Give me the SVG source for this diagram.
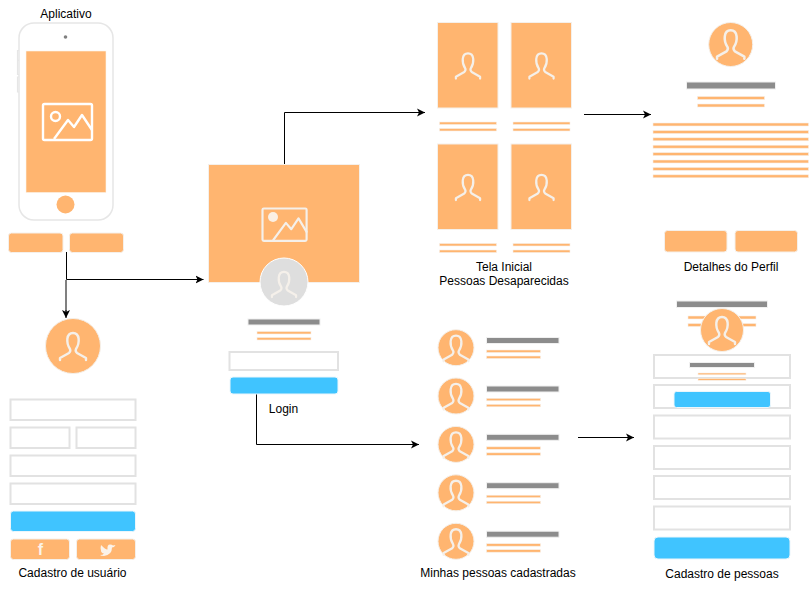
<svg xmlns="http://www.w3.org/2000/svg" xmlns:xlink="http://www.w3.org/1999/xlink" width="809" height="591" viewBox="0 0 809 591">
<style>
text{font-family:"Liberation Sans",Arial,sans-serif;font-size:12px;fill:#000;text-anchor:middle}
.o{fill:#ffb570;stroke:#f5f0ea;stroke-width:1}
.d{fill:#8c8c8c;stroke:#f0f0f0;stroke-width:1}
.b{fill:#40c4ff;stroke:#ecf6fb;stroke-width:1}
.f{fill:#fff;stroke:#e2e2e2;stroke-width:2}
.l{fill:#ffb570;stroke:#f7efe6;stroke-width:.6}
.c{fill:none;stroke:#000;stroke-width:1}
.i{fill:none;stroke:#f5f0ea;stroke-width:2.400;stroke-linecap:round;stroke-linejoin:round}
.w{fill:none;stroke:#fff;stroke-width:2.400;stroke-linejoin:round}
</style>
<defs>
<marker id="a" markerUnits="userSpaceOnUse" markerWidth="9" markerHeight="9" refX="8" refY="4.500" orient="auto"><path d="M0,.5L8,4.500L0,8.500L2,4.500Z" fill="#000"/></marker>
<path id="p" d="M-13,14V12L-4,7Q-2,5-3,3C-7,-3-7,-13,0,-13C7,-13,7,-3,3,3Q2,5,4,7L13,12V14"/>
</defs>
<g id="edges">
<path class="c" d="M66.500,252V279.500H203.500" marker-end="url(#a)"/>
<path d="M66,280V312" fill="none" stroke="#808080" stroke-width="2"/>
<path class="c" d="M66,310V318" marker-end="url(#a)"/>
<path class="c" d="M284.500,165V112.500H425" marker-end="url(#a)"/>
<path class="c" d="M256.500,394V444.500H419" marker-end="url(#a)"/>
<path class="c" d="M584,114.500H651" marker-end="url(#a)"/>
<path class="c" d="M578,437.500H634" marker-end="url(#a)"/>
</g>
<g id="app">
<text x="66" y="18">Aplicativo</text>
<path fill="#fff" stroke="#e6e6e6" stroke-width="1.200" d="M17.500,50.500h2v9.500h-2zM17.500,60.500h2v14h-2zM17.500,77h2v15h-2z"/>
<rect x="19" y="23" width="94" height="197" rx="15" fill="#fff" stroke="#e6e6e6" stroke-width="1.500"/>
<circle cx="65.500" cy="37" r="1.800" fill="#808080"/>
<rect x="26" y="51" width="80" height="141.500" fill="#ffb570" stroke="#fbf3ea" stroke-width=".6"/>
<circle cx="65.500" cy="204.500" r="9" fill="#ffb570"/>
<g class="w"><rect x="43" y="104" width="49" height="36" rx="1.500"/><circle cx="55.500" cy="116.500" r="4.500"/><path d="M54,139L68,120L74,127L82,115L92,130"/></g>
<rect class="o" x="8.500" y="233" width="54.500" height="19.500" rx="3"/>
<rect class="o" x="69.500" y="233" width="54" height="19.500" rx="3"/>
</g>
<g id="signup">
<circle class="o" cx="73" cy="346" r="27.500"/>
<use href="#p" class="i" transform="translate(73 346)"/>
<rect class="f" x="10.500" y="399.500" width="125" height="20.500"/>
<rect class="f" x="10.500" y="427.500" width="59" height="20.500"/>
<rect class="f" x="76.500" y="427.500" width="59" height="20.500"/>
<rect class="f" x="10.500" y="455.500" width="125" height="20.500"/>
<rect class="f" x="10.500" y="483.500" width="125" height="20.500"/>
<rect class="b" x="10.500" y="511" width="125" height="20.500" rx="3"/>
<rect class="o" x="10.500" y="539" width="59" height="20.500" rx="3"/>
<rect class="o" x="76.500" y="539" width="59" height="20.500" rx="3"/>
<text x="40.500" y="555" style="font-weight:bold;font-size:16px;fill:#fbf3ea">f</text>
<path fill="#fbf3ea" d="M101,545Q106,550 107.500,549.500Q107,544.500 110,544.500Q112,544.500 113,545.500L115.500,545L114,547L112,547.500Q112,555 104,556Q101,556 100,555Q103,555 104,553.500Q101,553 101,550.500Q100,549 101,545Z"/>
<text x="72.500" y="577">Cadastro de usuário</text>
</g>
<g id="login">
<rect class="o" x="208.500" y="164.500" width="151" height="118"/>
<g class="i" transform="translate(262.500 208.500) scale(.9)"><rect x="0" y="0" width="49" height="36" rx="1.500"/><path d="M12,35L26,16L32,23L40,11L49,26"/></g>
<circle cx="273" cy="217" r="5" fill="#fbf0e4"/>
<circle cx="284" cy="282" r="24" fill="#dedede" stroke="#fff" stroke-width="1"/>
<use href="#p" class="i" transform="translate(284 284) scale(.93)"/>
<rect class="d" x="248" y="319" width="72" height="6"/>
<rect class="l" x="257" y="331.500" width="54" height="2.500"/>
<rect class="l" x="257" y="337.500" width="54" height="2.500"/>
<rect class="f" x="229.500" y="352" width="108.500" height="18"/>
<rect class="b" x="230" y="377" width="108" height="17" rx="3"/>
<text x="283.500" y="413">Login</text>
</g>
<g id="home">
<rect class="o" x="437.500" y="22.500" width="60.500" height="85.500"/>
<rect class="o" x="511" y="22.500" width="60.500" height="85.500"/>
<rect class="o" x="437.500" y="144" width="60.500" height="85.500"/>
<rect class="o" x="511" y="144" width="60.500" height="85.500"/>
<use href="#p" class="i" transform="translate(468 65.500) scale(.93)"/>
<use href="#p" class="i" transform="translate(541.500 65.500) scale(.93)"/>
<use href="#p" class="i" transform="translate(468 187) scale(.93)"/>
<use href="#p" class="i" transform="translate(541.500 187) scale(.93)"/>
<g class="l">
<rect x="439.500" y="122" width="57" height="2.500"/><rect x="439.500" y="128.500" width="57" height="2.500"/>
<rect x="513" y="122" width="57" height="2.500"/><rect x="513" y="128.500" width="57" height="2.500"/>
<rect x="439.500" y="243.500" width="57" height="2.500"/><rect x="439.500" y="250" width="57" height="2.500"/>
<rect x="513" y="243.500" width="57" height="2.500"/><rect x="513" y="250" width="57" height="2.500"/>
</g>
<text x="504" y="270.500">Tela Inicial</text>
<text x="504" y="284.500">Pessoas Desaparecidas</text>
</g>
<g id="profile">
<circle class="o" cx="730.700" cy="44.500" r="22"/>
<use href="#p" class="i" transform="translate(730.700 44) scale(1.050)"/>
<rect class="d" x="686.500" y="82" width="89" height="7"/>
<g class="l">
<rect x="697.500" y="96.500" width="67" height="3"/><rect x="697.500" y="104" width="67" height="3"/>
<rect x="653" y="123" width="155.500" height="3"/><rect x="653" y="130.500" width="155.500" height="3"/>
<rect x="653" y="137.800" width="155.500" height="3"/><rect x="653" y="145.200" width="155.500" height="3"/>
<rect x="653" y="152.600" width="155.500" height="3"/><rect x="653" y="160" width="155.500" height="3"/>
<rect x="653" y="167.400" width="155.500" height="3"/><rect x="653" y="174.800" width="155.500" height="3"/>
</g>
<rect class="o" x="664.500" y="230.500" width="62.500" height="21.500" rx="3"/>
<rect class="o" x="735" y="230.500" width="62.500" height="21.500" rx="3"/>
<text x="731" y="271">Detalhes do Perfil</text>
</g>
<g id="list">
<g id="row1"><circle class="o" cx="456" cy="347.700" r="18"/><use href="#p" class="i" transform="translate(456 348) scale(.95)"/><rect class="d" x="486.500" y="337.500" width="72.500" height="6"/><rect class="l" x="486.500" y="350" width="54" height="2.500"/><rect class="l" x="486.500" y="356" width="54" height="2.500"/></g>
<g id="row2"><circle class="o" cx="456" cy="396" r="18"/><use href="#p" class="i" transform="translate(456 396.300) scale(.95)"/><rect class="d" x="486.500" y="386" width="72.500" height="6"/><rect class="l" x="486.500" y="398.300" width="54" height="2.500"/><rect class="l" x="486.500" y="404.300" width="54" height="2.500"/></g>
<g id="row3"><circle class="o" cx="456" cy="444.400" r="18"/><use href="#p" class="i" transform="translate(456 444.700) scale(.95)"/><rect class="d" x="486.500" y="434.300" width="72.500" height="6"/><rect class="l" x="486.500" y="446.800" width="54" height="2.500"/><rect class="l" x="486.500" y="452.800" width="54" height="2.500"/></g>
<g id="row4"><circle class="o" cx="456" cy="492.800" r="18"/><use href="#p" class="i" transform="translate(456 493.100) scale(.95)"/><rect class="d" x="486.500" y="482.700" width="72.500" height="6"/><rect class="l" x="486.500" y="495.200" width="54" height="2.500"/><rect class="l" x="486.500" y="501.200" width="54" height="2.500"/></g>
<g id="row5"><circle class="o" cx="456" cy="541.300" r="18"/><use href="#p" class="i" transform="translate(456 541.600) scale(.95)"/><rect class="d" x="486.500" y="531.200" width="72.500" height="6"/><rect class="l" x="486.500" y="543.700" width="54" height="2.500"/><rect class="l" x="486.500" y="549.700" width="54" height="2.500"/></g>
<text x="498" y="577">Minhas pessoas cadastradas</text>
</g>
<g id="register">
<rect class="d" x="676.500" y="301" width="91" height="6.500"/>
<rect class="l" x="688" y="316" width="68" height="3"/>
<rect class="l" x="688" y="323.500" width="68" height="3"/>
<circle class="o" cx="722" cy="330" r="21.500"/>
<use href="#p" class="i" transform="translate(722 330)"/>
<rect class="f" x="654" y="355" width="136" height="23"/>
<rect class="d" x="689.500" y="362.500" width="65" height="5"/>
<rect class="l" x="698" y="373" width="48" height="1.800"/>
<rect class="l" x="698" y="378.500" width="48" height="1.800"/>
<rect class="f" x="654" y="385" width="136" height="23"/>
<rect class="b" x="674" y="391.500" width="96.500" height="16" rx="2.500"/>
<rect class="f" x="654" y="415.500" width="136" height="23"/>
<rect class="f" x="654" y="446" width="136" height="23"/>
<rect class="f" x="654" y="476" width="136" height="23"/>
<rect class="f" x="654" y="506.500" width="136" height="23"/>
<rect class="b" x="654" y="537" width="136" height="22" rx="4"/>
<text x="722" y="578">Cadastro de pessoas</text>
</g>
</svg>
